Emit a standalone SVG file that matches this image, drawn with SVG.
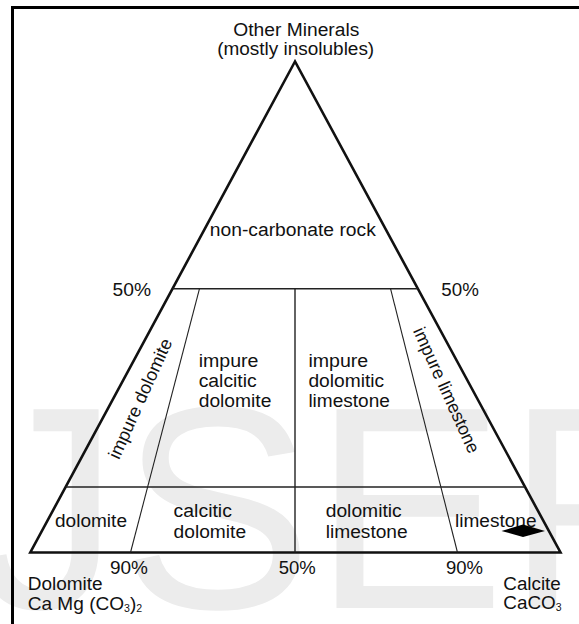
<svg xmlns="http://www.w3.org/2000/svg" width="579" height="624" viewBox="0 0 579 624">
<style>
  .t{font-family:"Liberation Sans",Arial,Helvetica,sans-serif;font-size:18px;fill:#111}
  .sub{font-size:10px}
  .wm{font-family:"Liberation Sans",Arial,Helvetica,sans-serif;font-size:289px;fill:#ececec}
  .outer{fill:none;stroke:#111;stroke-width:2.6;stroke-linejoin:miter}
  .div{stroke:#222;stroke-width:1.4;fill:none}
  .thin{stroke:#222;stroke-width:1.1;fill:none}
</style>
<rect width="579" height="624" fill="#fff"/>
<text class="wm" x="-104.8" y="608">IJSER</text>
<path d="M12.5 624 V7.5 H579" fill="none" stroke="#000" stroke-width="3"/>
<g id="connectors">
  <polygon class="outer" points="295,61.5 30.3,552.5 560.5,552.5"/>
  <line class="div" x1="172.5" y1="288.7" x2="417.8" y2="288.7"/>
  <line class="div" x1="65.6" y1="487" x2="525.1" y2="487"/>
  <line class="thin" x1="199.5" y1="288.7" x2="130.5" y2="552.5"/>
  <line class="div" x1="295" y1="288.7" x2="295" y2="552.5"/>
  <line class="thin" x1="390.5" y1="288.7" x2="457.5" y2="552.5"/>
</g>
<g id="apex-label">
  <text class="t" x="296.3" y="35.5" text-anchor="middle" textLength="126" lengthAdjust="spacingAndGlyphs">Other Minerals</text>
  <text class="t" x="295.7" y="55" text-anchor="middle" textLength="157" lengthAdjust="spacingAndGlyphs">(mostly insolubles)</text>
</g>
<g id="non-carbonate-rock">
  <text class="t" x="209.8" y="235.7" textLength="166" lengthAdjust="spacingAndGlyphs">non-carbonate rock</text>
</g>
<g id="pct-50-left"><text class="t" x="112.6" y="296" textLength="38.5" lengthAdjust="spacingAndGlyphs">50%</text></g>
<g id="pct-50-right"><text class="t" x="441.3" y="296" textLength="37.5" lengthAdjust="spacingAndGlyphs">50%</text></g>
<g id="impure-dolomite">
  <text class="t" text-anchor="middle" textLength="130" lengthAdjust="spacingAndGlyphs" transform="translate(145.8 401.1) rotate(-65.6)">impure dolomite</text>
</g>
<g id="impure-calcitic-dolomite">
  <text class="t" x="198.7" y="367" textLength="59.8" lengthAdjust="spacingAndGlyphs">impure</text>
  <text class="t" x="198.7" y="387" textLength="58" lengthAdjust="spacingAndGlyphs">calcitic</text>
  <text class="t" x="198.7" y="407" textLength="72.7" lengthAdjust="spacingAndGlyphs">dolomite</text>
</g>
<g id="impure-dolomitic-limestone">
  <text class="t" x="308.4" y="367" textLength="59.8" lengthAdjust="spacingAndGlyphs">impure</text>
  <text class="t" x="308.4" y="387" textLength="75.7" lengthAdjust="spacingAndGlyphs">dolomitic</text>
  <text class="t" x="308.4" y="407" textLength="81.5" lengthAdjust="spacingAndGlyphs">limestone</text>
</g>
<g id="impure-limestone">
  <text class="t" text-anchor="middle" textLength="136" lengthAdjust="spacingAndGlyphs" transform="translate(440.9 392.7) rotate(65.6)">impure limestone</text>
</g>
<g id="dolomite">
  <text class="t" x="55" y="527" textLength="72" lengthAdjust="spacingAndGlyphs">dolomite</text>
</g>
<g id="calcitic-dolomite">
  <text class="t" x="173.6" y="517" textLength="58.3" lengthAdjust="spacingAndGlyphs">calcitic</text>
  <text class="t" x="173.6" y="538" textLength="72.5" lengthAdjust="spacingAndGlyphs">dolomite</text>
</g>
<g id="dolomitic-limestone">
  <text class="t" x="325.7" y="517" textLength="76" lengthAdjust="spacingAndGlyphs">dolomitic</text>
  <text class="t" x="325.7" y="538" textLength="82" lengthAdjust="spacingAndGlyphs">limestone</text>
</g>
<g id="limestone">
  <text class="t" x="455" y="527" textLength="81.5" lengthAdjust="spacingAndGlyphs">limestone</text>
  <polygon points="501.5,531 523,524.5 545,531 523,537" fill="#000"/>
</g>
<g id="pct-90-left"><text class="t" x="110" y="573.5" textLength="38" lengthAdjust="spacingAndGlyphs">90%</text></g>
<g id="pct-50-bottom"><text class="t" x="278.8" y="573.5" textLength="37" lengthAdjust="spacingAndGlyphs">50%</text></g>
<g id="pct-90-right"><text class="t" x="446" y="573.5" textLength="37" lengthAdjust="spacingAndGlyphs">90%</text></g>
<g id="dolomite-corner">
  <text class="t" x="27.7" y="590" textLength="75" lengthAdjust="spacingAndGlyphs">Dolomite</text>
  <text class="t" transform="translate(27.7 609.5) scale(1.06 1)">Ca Mg (CO<tspan class="sub" dy="2">3</tspan><tspan dy="-2">)</tspan><tspan class="sub" dy="2">2</tspan></text>
</g>
<g id="calcite-corner">
  <text class="t" x="503.3" y="590" textLength="57.5" lengthAdjust="spacingAndGlyphs">Calcite</text>
  <text class="t" transform="translate(503.3 608.5) scale(1.05 1)">CaCO<tspan class="sub" dy="2">3</tspan></text>
</g>
</svg>
